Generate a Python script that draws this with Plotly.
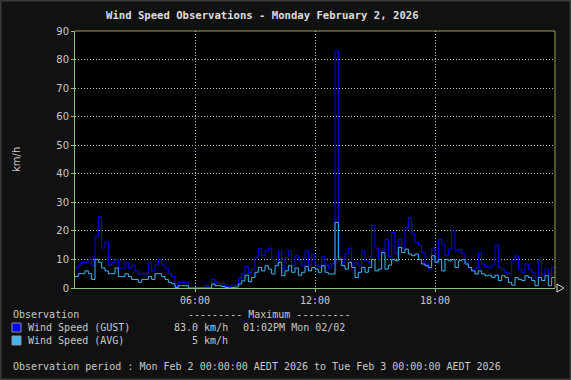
import pandas as pd
import plotly.graph_objects as go

# ---------------- data (10-minute intervals, 2026-02-02 00:00 -> 24:00) ----------------
start_time = "2026-02-02 00:00"
interval = "10min"

gust_kmh = (
    [7, 8, 9, 9, 10, 8] +            # 00h
    [18, 25, 14, 16, 8, 9] +         # 01h
    [10, 7, 7, 9, 7, 8] +            # 02h
    [6, 5, 5, 5, 9, 6] +             # 03h
    [8, 10, 8, 7, 5, 4] +            # 04h
    [0.5, 2, 2, 2, 0, 0] +           # 05h
    [0, 0, 0, 0.8, 0, 3] +           # 06h
    [2, 1.5, 1.5, 0.5, 0.5, 1] +     # 07h
    [1, 3.5, 5, 7.5, 5.5, 6.5] +     # 08h
    [10.5, 13.8, 11.3, 13, 14, 10] + # 09h
    [8.4, 13, 6.6, 10.7, 13, 7.8] +  # 10h
    [11.3, 9.5, 7.8, 13, 8, 11.9] +  # 11h
    [8, 7.5, 11, 8, 7, 8.5] +        # 12h
    [83, 10.7, 9, 12, 14, 8] +       # 13h
    [9, 7.8, 13, 9.5, 9, 22] +       # 14h
    [14, 10, 13, 17, 11, 19.4] +     # 15h
    [12, 17, 14, 21, 24.6, 18.8] +   # 16h
    [15.9, 15, 12.4, 8.4, 6.6, 14] + # 17h
    [9.5, 17, 15.3, 11.3, 13.6, 20] +# 18h
    [13, 13.5, 12, 9, 7.2, 6] +      # 19h
    [7, 12.4, 8.4, 7.5, 7, 8] +      # 20h
    [15, 7.2, 6.5, 5.5, 5, 9.5] +    # 21h
    [11.3, 6.6, 5.5, 8.4, 6.6, 5.5] +# 22h
    [3.5, 10, 4.5, 6.6, 4.5, 7.2]    # 23h
)

avg_kmh = (
    [4, 5, 5, 6, 5, 3] +
    [10, 9, 7, 6, 5, 5] +
    [7, 4, 4, 5, 4, 3] +
    [3, 2, 3, 3, 4, 3] +
    [5, 5, 4, 3, 2, 1.5] +
    [0.2, 0.8, 0.8, 0.8, 0, 0] +
    [0, 0, 0, 0, 0, 1.4] +
    [0.8, 0.8, 0.5, 0.2, 0, 0.2] +
    [0.3, 1.4, 2.5, 4.5, 2.2, 3.7] +
    [5.5, 7.2, 6, 7.8, 6.6, 4.9] +
    [7.8, 9, 4.3, 6, 7.8, 5.5] +
    [7, 4.5, 5.5, 7.5, 6, 7.2] +
    [6.6, 5.5, 7.8, 5.5, 4.9, 4.9] +
    [23, 10, 7.8, 6.6, 9, 7.2] +
    [3.7, 5.5, 7.2, 5.5, 7.2, 10] +
    [6, 6.6, 12.4, 6.6, 8, 10] +
    [9.5, 14.2, 12.4, 13.6, 11.9, 11.3] +
    [11.9, 10, 8.4, 7.8, 7.2, 11.3] +
    [9, 10, 6, 10, 9.5, 10] +
    [7.2, 9.5, 10, 8.4, 7.2, 6] +
    [4.9, 6, 4.9, 4.3, 4.5, 3.7] +
    [4.5, 2.6, 4.3, 3.7, 2, 1] +
    [3.7, 3, 2.6, 4.3, 3.7, 2.6] +
    [0.8, 3.7, 2.6, 4.3, 0.8, 3.7]
)

x_tick_vals = ["2026-02-02 06:00", "2026-02-02 12:00", "2026-02-02 18:00"]
x_tick_text = ["06:00", "12:00", "18:00"]
y_tick_vals = [0, 10, 20, 30, 40, 50, 60, 70, 80, 90]

title_text = "Wind Speed Observations - Monday February 2, 2026"
series_names = ["Wind Speed (GUST)", "Wind Speed (AVG)"]
max_values = ["83.0 km/h", "5 km/h"]
max_time = "01:02PM Mon 02/02"
period_text = "Observation period : Mon Feb 2 00:00:00 AEDT 2026 to Tue Feb 3 00:00:00 AEDT 2026"

# ---------------- build ----------------
times = pd.date_range(start_time, periods=len(gust_kmh) + 1, freq=interval)
gust_y = gust_kmh + [gust_kmh[-1]]
avg_y = avg_kmh + [avg_kmh[-1]]

GUST_C = "#0000FF"
AVG_C = "#40B6F5"
TXT = "#C8C8C8"
GRID = "#A8D898"
AXIS = "#90C080"
FRAME = "#9A9A50"
MONO = "DejaVu Sans Mono"
SANS = "DejaVu Sans"

W, H = 571, 380
L, R, T, B = 75, 555, 31, 288


def PX(x):
    return (x - L) / (R - L)


def PY(y):
    return (B - y) / (B - T)


fig = go.Figure()
fig.add_trace(go.Scatter(x=times, y=gust_y, mode="lines", line=dict(color=GUST_C, width=1, shape="hv"),
                         name=series_names[0], hoverinfo="skip"))
fig.add_trace(go.Scatter(x=times, y=avg_y, mode="lines", line=dict(color=AVG_C, width=1, shape="hv"),
                         name=series_names[1], hoverinfo="skip"))

fig.update_layout(
    width=W, height=H, autosize=False,
    margin=dict(l=L, r=W - R, t=T, b=H - B, pad=0),
    paper_bgcolor="#111111", plot_bgcolor="#000000",
    showlegend=False,
    font=dict(family=MONO, size=10, color=TXT),
)
fig.update_xaxes(
    range=[times[0], times[-1]], tickvals=x_tick_vals, ticktext=x_tick_text,
    showgrid=True, gridcolor=GRID, griddash="1px,2px", gridwidth=1,
    showline=True, linecolor=AXIS, linewidth=1,
    ticks="outside", ticklen=3, tickcolor=AXIS,
    tickfont=dict(family=MONO, size=10, color=TXT), zeroline=False,
)
fig.update_yaxes(
    range=[0, 90], tickvals=y_tick_vals,
    showgrid=True, gridcolor=GRID, griddash="1px,2px", gridwidth=1,
    showline=True, linecolor=AXIS, linewidth=1,
    ticks="outside", ticklen=3, tickcolor=AXIS,
    tickfont=dict(family=SANS, size=10, color=TXT), zeroline=False,
)

shapes = [
    # top & right frame of plot
    dict(type="line", xref="paper", yref="paper", x0=0, x1=1, y0=1, y1=1, line=dict(color=FRAME, width=1)),
    dict(type="line", xref="paper", yref="paper", x0=1, x1=1, y0=0, y1=1, line=dict(color=FRAME, width=1)),
    # outer image frame
    dict(type="rect", xref="paper", yref="paper", x0=PX(0.5), x1=PX(W - 0.5), y0=PY(H - 0.5), y1=PY(0.5),
         line=dict(color="#3A3A3A", width=2), layer="below"),
    # legend swatches
    dict(type="rect", xref="paper", yref="paper", x0=PX(12), x1=PX(21), y0=PY(332), y1=PY(323),
         fillcolor=GUST_C, line=dict(color="#909090", width=1)),
    dict(type="rect", xref="paper", yref="paper", x0=PX(12), x1=PX(21), y0=PY(345), y1=PY(336),
         fillcolor=AVG_C, line=dict(color="#909090", width=1)),
    # arrow at end of x axis
    dict(type="path", xref="paper", yref="paper",
         path=f"M {PX(557)} {PY(284)} L {PX(564)} {PY(288)} L {PX(557)} {PY(292)} Z",
         line=dict(color="#E0E0E0", width=1), fillcolor="rgba(0,0,0,0)"),
]
fig.update_layout(shapes=shapes)


def ann(text, x, y, xanchor="left", size=10, family=MONO, color=TXT, bold=False, angle=0):
    t = f"<b>{text}</b>" if bold else text
    return dict(text=t, x=PX(x), y=PY(y), xref="paper", yref="paper", xanchor=xanchor, yanchor="middle",
                showarrow=False, font=dict(family=family, size=size, color=color), textangle=angle)


annotations = [
    ann(title_text, 262, 15, xanchor="center", size=10.6, color="#DDDDDD", bold=True),
    ann("km/h", 16, 160, xanchor="center", family=SANS, angle=-90),
    ann("Observation", 11, 314),
    ann("--------- Maximum ---------", 186, 314),
    ann(series_names[0], 26, 327),
    ann(max_values[0], 230, 327, xanchor="right"),
    ann(max_time, 241, 327),
    ann(series_names[1], 26, 340),
    ann(max_values[1], 230, 340, xanchor="right"),
    ann(period_text, 11, 366),
]
fig.update_layout(annotations=annotations)

fig.write_html("out.html", config={"displayModeBar": False},
               post_script="document.body.style.margin='0';document.body.style.background='#111111';")
